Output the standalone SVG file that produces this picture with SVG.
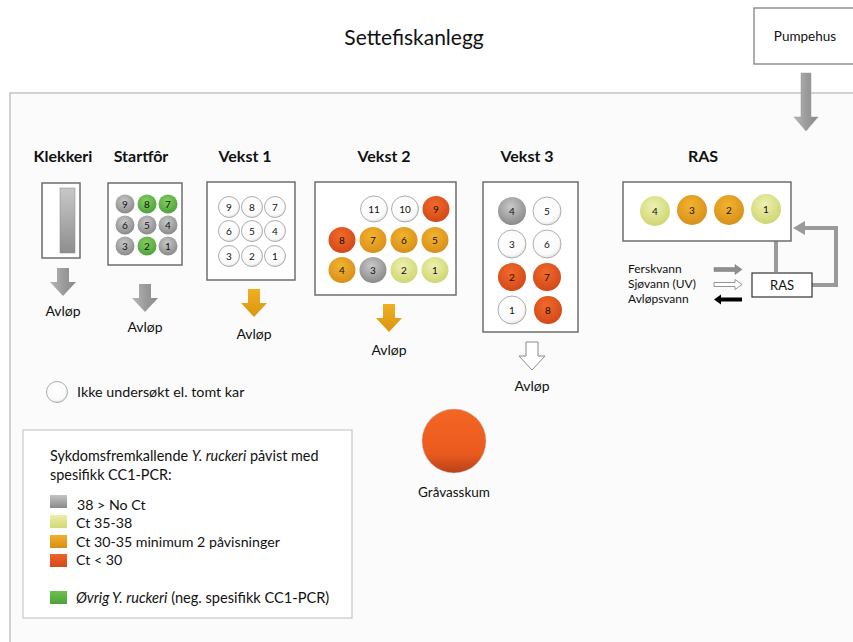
<svg xmlns="http://www.w3.org/2000/svg" width="853" height="642" viewBox="0 0 853 642">
<defs>
<style>
text{font-family:Lato,"Open Sans","Liberation Sans",sans-serif;fill:#111}
.h{font-weight:bold;font-size:16px;text-anchor:middle}
.n{font-size:10px;text-anchor:middle}
.av{font-size:14px;text-anchor:middle}
.lg{font-size:14.4px}
.li{font-size:14.2px}
.box{fill:#fff;stroke:#6e6e6e;stroke-width:1.5}
.wb{fill:url(#gW);stroke:#9a9a9a;stroke-width:0.8}
.gy{fill:url(#gG)}
.gr{fill:url(#gGr)}
.rd{fill:url(#gR)}
.or{fill:url(#gO)}
.yl{fill:url(#gY)}
</style>
<radialGradient id="gW" cx="0.45" cy="0.4" r="0.6"><stop offset="0" stop-color="#ffffff"/><stop offset="0.8" stop-color="#fafafa"/><stop offset="1" stop-color="#e2e2e2"/></radialGradient>
<radialGradient id="gG" cx="0.45" cy="0.35" r="0.65"><stop offset="0" stop-color="#c9c9c9"/><stop offset="1" stop-color="#8a8a8a"/></radialGradient>
<radialGradient id="gGr" cx="0.45" cy="0.35" r="0.65"><stop offset="0" stop-color="#86cf62"/><stop offset="1" stop-color="#4da23a"/></radialGradient>
<radialGradient id="gR" cx="0.45" cy="0.35" r="0.65"><stop offset="0" stop-color="#f26a2a"/><stop offset="1" stop-color="#d2481a"/></radialGradient>
<radialGradient id="gO" cx="0.45" cy="0.35" r="0.65"><stop offset="0" stop-color="#f2b32e"/><stop offset="1" stop-color="#d8901a"/></radialGradient>
<radialGradient id="gY" cx="0.45" cy="0.35" r="0.65"><stop offset="0" stop-color="#eef0b0"/><stop offset="1" stop-color="#cfd672"/></radialGradient>
<linearGradient id="gBig" x1="0" y1="0" x2="0" y2="1"><stop offset="0" stop-color="#f46624"/><stop offset="0.7" stop-color="#ea5a1e"/><stop offset="1" stop-color="#b84218"/></linearGradient>
<linearGradient id="gArr" x1="0" y1="0" x2="1" y2="0"><stop offset="0" stop-color="#b8b8b8"/><stop offset="0.5" stop-color="#9c9c9c"/><stop offset="1" stop-color="#888888"/></linearGradient>
<linearGradient id="gArrO" x1="0" y1="0" x2="0" y2="1"><stop offset="0" stop-color="#efb020"/><stop offset="1" stop-color="#d99510"/></linearGradient>
<linearGradient id="gBar" x1="0" y1="0" x2="0" y2="1"><stop offset="0" stop-color="#c8c8c8"/><stop offset="1" stop-color="#8e8e8e"/></linearGradient>
<linearGradient id="sG" x1="0" y1="0" x2="0" y2="1"><stop offset="0" stop-color="#c4c4c4"/><stop offset="1" stop-color="#8a8a8a"/></linearGradient>
<linearGradient id="sY" x1="0" y1="0" x2="0" y2="1"><stop offset="0" stop-color="#ecedaa"/><stop offset="1" stop-color="#d3d878"/></linearGradient>
<linearGradient id="sO" x1="0" y1="0" x2="0" y2="1"><stop offset="0" stop-color="#f2b02a"/><stop offset="1" stop-color="#d98e18"/></linearGradient>
<linearGradient id="sR" x1="0" y1="0" x2="0" y2="1"><stop offset="0" stop-color="#f0642a"/><stop offset="1" stop-color="#d04a1a"/></linearGradient>
<linearGradient id="sGr" x1="0" y1="0" x2="0" y2="1"><stop offset="0" stop-color="#6cc14c"/><stop offset="1" stop-color="#4da23a"/></linearGradient>
<path id="dArr" d="M-6,0 H6 V14 H13 L0,28 L-13,14 H-6 Z"/>
</defs>

<rect x="0" y="0" width="853" height="642" fill="#ffffff"/>

<g id="title"><text x="414" y="45" style="font-size:21px;text-anchor:middle">Settefiskanlegg</text></g>

<g id="pumpehus">
<rect x="754" y="8" width="104" height="56" fill="#fff" stroke="#777" stroke-width="1.2"/>
<text x="805" y="41" style="font-size:13.5px;text-anchor:middle">Pumpehus</text>
</g>

<g id="anlegg">
<rect x="10" y="93" width="850" height="560" fill="#fbfbfb" stroke="#c4c4c4" stroke-width="1.5"/>
</g>

<g id="connectors">
<path d="M801,73 H811 V117 H818 L806,131 L794,117 H801 Z" fill="url(#gArr)" stroke="#999" stroke-width="0.5"/>
<path d="M776,241 V272" stroke="#9a9a9a" stroke-width="4" fill="none"/>
<path d="M812,285 H836 V228 H797" stroke="#9a9a9a" stroke-width="4" fill="none"/>
<path d="M805,221 L793,228 L805,235 Z" fill="#9a9a9a"/>
</g>

<g id="klekkeri">
<text class="h" x="63" y="162">Klekkeri</text>
<rect class="box" x="42" y="183" width="38" height="75"/>
<rect x="60" y="188" width="15" height="65" fill="url(#gBar)" stroke="#888" stroke-width="0.5"/>
<use href="#dArr" x="63" y="268" fill="url(#gArr)"/>
<text class="av" x="63" y="316">Avløp</text>
</g>

<g id="startfor">
<text class="h" x="141" y="162">Startfôr</text>
<rect class="box" x="108" y="183" width="74" height="82"/>
<circle class="gy" cx="125" cy="204" r="9.5"/><text class="n" x="125" y="207.5">9</text>
<circle class="gr" cx="147" cy="204" r="9.5"/><text class="n" x="147" y="207.5">8</text>
<circle class="gr" cx="168" cy="204" r="9.5"/><text class="n" x="168" y="207.5">7</text>
<circle class="gy" cx="125" cy="225" r="9.5"/><text class="n" x="125" y="228.5">6</text>
<circle class="gy" cx="147" cy="225" r="9.5"/><text class="n" x="147" y="228.5">5</text>
<circle class="gy" cx="168" cy="225" r="9.5"/><text class="n" x="168" y="228.5">4</text>
<circle class="gy" cx="125" cy="246" r="9.5"/><text class="n" x="125" y="249.5">3</text>
<circle class="gr" cx="147" cy="246" r="9.5"/><text class="n" x="147" y="249.5">2</text>
<circle class="gy" cx="168" cy="246" r="9.5"/><text class="n" x="168" y="249.5">1</text>
<use href="#dArr" x="145" y="284" fill="url(#gArr)"/>
<text class="av" x="145" y="332">Avløp</text>
</g>

<g id="vekst1">
<text class="h" x="245" y="162">Vekst 1</text>
<rect class="box" x="207" y="182" width="88" height="98"/>
<circle class="wb" cx="229" cy="207" r="10.5"/><text class="n" x="229" y="210.5">9</text>
<circle class="wb" cx="252" cy="207" r="10.5"/><text class="n" x="252" y="210.5">8</text>
<circle class="wb" cx="275" cy="207" r="10.5"/><text class="n" x="275" y="210.5">7</text>
<circle class="wb" cx="229" cy="231" r="10.5"/><text class="n" x="229" y="234.5">6</text>
<circle class="wb" cx="252" cy="231" r="10.5"/><text class="n" x="252" y="234.5">5</text>
<circle class="wb" cx="275" cy="231" r="10.5"/><text class="n" x="275" y="234.5">4</text>
<circle class="wb" cx="229" cy="256" r="10.5"/><text class="n" x="229" y="259.5">3</text>
<circle class="wb" cx="252" cy="256" r="10.5"/><text class="n" x="252" y="259.5">2</text>
<circle class="wb" cx="275" cy="256" r="10.5"/><text class="n" x="275" y="259.5">1</text>
<use href="#dArr" x="254" y="289" fill="url(#gArrO)"/>
<text class="av" x="254" y="339">Avløp</text>
</g>

<g id="vekst2">
<text class="h" x="384" y="162">Vekst 2</text>
<rect class="box" x="315" y="182" width="141" height="113"/>
<ellipse class="wb" cx="374" cy="209" rx="13.5" ry="13"/><text class="n" x="374" y="212.5">11</text>
<ellipse class="wb" cx="405" cy="209" rx="13.5" ry="13"/><text class="n" x="405" y="212.5">10</text>
<ellipse class="rd" cx="436" cy="209" rx="13.5" ry="13"/><text class="n" x="436" y="212.5">9</text>
<ellipse class="rd" cx="342" cy="240" rx="13.5" ry="13"/><text class="n" x="342" y="243.5">8</text>
<ellipse class="or" cx="373" cy="240" rx="13.5" ry="13"/><text class="n" x="373" y="243.5">7</text>
<ellipse class="or" cx="404" cy="240" rx="13.5" ry="13"/><text class="n" x="404" y="243.5">6</text>
<ellipse class="or" cx="435" cy="240" rx="13.5" ry="13"/><text class="n" x="435" y="243.5">5</text>
<ellipse class="or" cx="342" cy="270" rx="13.5" ry="13"/><text class="n" x="342" y="273.5">4</text>
<ellipse class="gy" cx="373" cy="270" rx="13.5" ry="13"/><text class="n" x="373" y="273.5">3</text>
<ellipse class="yl" cx="404" cy="270" rx="13.5" ry="13"/><text class="n" x="404" y="273.5">2</text>
<ellipse class="yl" cx="435" cy="270" rx="13.5" ry="13"/><text class="n" x="435" y="273.5">1</text>
<use href="#dArr" x="389" y="304" fill="url(#gArrO)"/>
<text class="av" x="389" y="355">Avløp</text>
</g>

<g id="vekst3">
<text class="h" x="527" y="162">Vekst 3</text>
<rect class="box" x="483" y="182" width="95" height="150"/>
<circle class="gy" cx="512" cy="211" r="14"/><text class="n" x="512" y="214.5">4</text>
<circle class="wb" cx="547" cy="211" r="14"/><text class="n" x="547" y="214.5">5</text>
<circle class="wb" cx="512" cy="244" r="14"/><text class="n" x="512" y="247.5">3</text>
<circle class="wb" cx="547" cy="244" r="14"/><text class="n" x="547" y="247.5">6</text>
<circle class="rd" cx="512" cy="277" r="14"/><text class="n" x="512" y="280.5">2</text>
<circle class="rd" cx="547" cy="277" r="14"/><text class="n" x="547" y="280.5">7</text>
<circle class="wb" cx="512" cy="310" r="14"/><text class="n" x="512" y="313.5">1</text>
<circle class="rd" cx="548" cy="310" r="14"/><text class="n" x="548" y="313.5">8</text>
<use href="#dArr" x="532" y="342" fill="#fff" stroke="#8a8a8a" stroke-width="1"/>
<text class="av" x="532" y="391">Avløp</text>
</g>

<g id="ras">
<text class="h" x="703" y="162">RAS</text>
<rect class="box" x="623" y="182" width="168" height="59"/>
<circle class="yl" cx="655" cy="211" r="15"/><text class="n" x="655" y="214.5">4</text>
<circle class="or" cx="692" cy="210" r="15"/><text class="n" x="692" y="213.5">3</text>
<circle class="or" cx="729" cy="210" r="15"/><text class="n" x="729" y="213.5">2</text>
<circle class="yl" cx="766" cy="209" r="15"/><text class="n" x="766" y="212.5">1</text>
</g>

<g id="ras-unit">
<rect x="752" y="273" width="60" height="24" fill="#fff" stroke="#333" stroke-width="1.2"/>
<text x="782" y="290" style="font-size:13px;text-anchor:middle">RAS</text>
</g>

<g id="vanntyper">
<text x="628" y="273" style="font-size:12px">Ferskvann</text>
<text x="628" y="288" style="font-size:12px">Sjøvann (UV)</text>
<text x="628" y="303" style="font-size:12px">Avløpsvann</text>
<path d="M714,267.5 H735 V264.5 L742,269.5 L735,274.5 V271.5 H714 Z" fill="#8f8f8f" stroke="#777" stroke-width="0.5"/>
<path d="M714,282.5 H735 V279.5 L742,284.5 L735,289.5 V286.5 H714 Z" fill="#fff" stroke="#8a8a8a" stroke-width="0.9"/>
<path d="M742,297.5 H721 V294.5 L714,299.5 L721,304.5 V301.5 H742 Z" fill="#000"/>
</g>

<g id="ikke-undersokt">
<circle cx="57" cy="392" r="10.5" fill="url(#gW)" stroke="#9a9a9a" stroke-width="0.8"/>
<text x="77" y="397" style="font-size:14.3px">Ikke undersøkt el. tomt kar</text>
</g>

<g id="gravasskum">
<circle cx="454" cy="441" r="32" fill="url(#gBig)" stroke="#c0c0c0" stroke-width="0.5"/>
<text x="454" y="497" style="font-size:13.5px;text-anchor:middle">Gråvasskum</text>
</g>

<g id="legend">
<rect x="23" y="430" width="329" height="188" fill="#fff" stroke="#c8c8c8" stroke-width="1.2"/>
<text class="lg" x="50" y="461">Sykdomsfremkallende <tspan font-style="italic">Y. ruckeri</tspan> påvist med</text>
<text class="lg" x="50" y="480">spesifikk CC1-PCR:</text>
<rect x="50" y="495" width="17" height="13" fill="url(#sG)"/><text class="li" x="77" y="510">38 &gt; No Ct</text>
<rect x="50" y="515" width="17" height="13" fill="url(#sY)"/><text class="li" x="76" y="528">Ct 35-38</text>
<rect x="50" y="535" width="17" height="13" fill="url(#sO)"/><text class="li" x="76" y="547">Ct 30-35 minimum 2 påvisninger</text>
<rect x="50" y="554" width="17" height="13" fill="url(#sR)"/><text class="li" x="76" y="565">Ct &lt; 30</text>
<rect x="50" y="591" width="17" height="13" fill="url(#sGr)"/><text x="76" y="603" style="font-size:14.6px"><tspan font-style="italic">Øvrig Y. ruckeri</tspan> (neg. spesifikk CC1-PCR)</text>
</g>
</svg>
